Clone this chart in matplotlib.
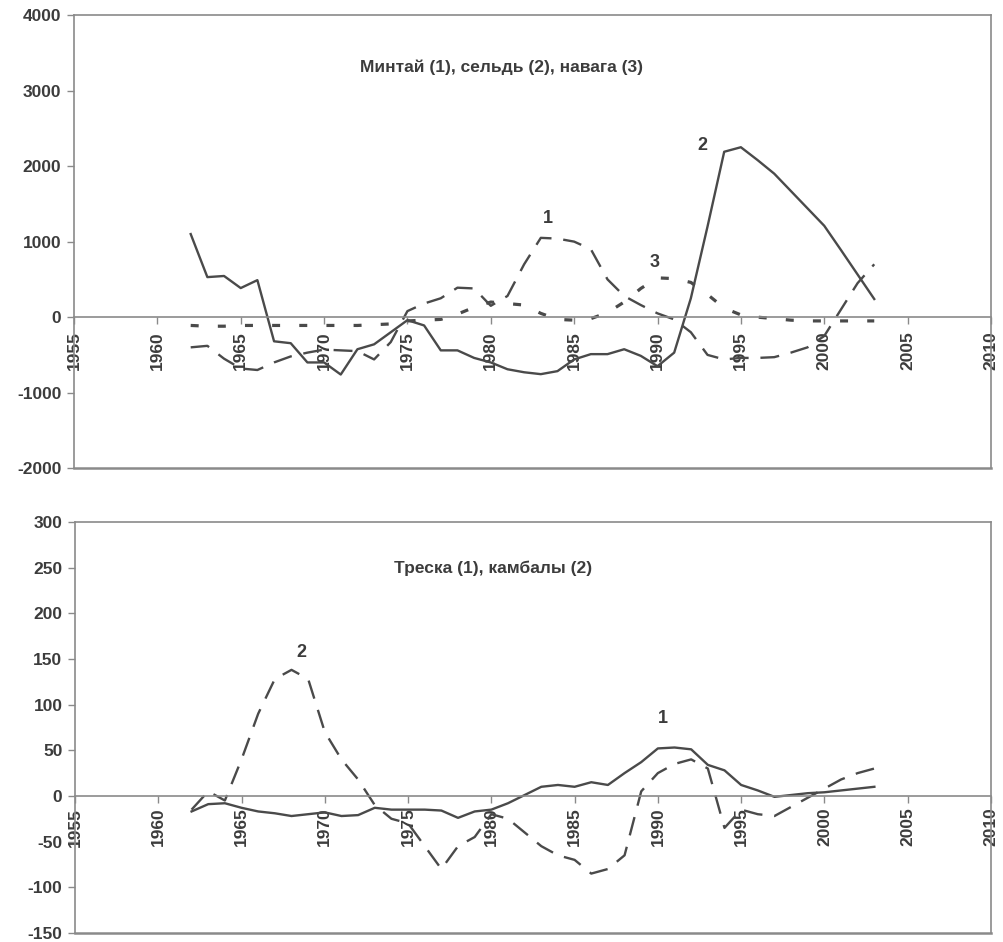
import numpy as np
import matplotlib
matplotlib.use("Agg")
import matplotlib.pyplot as plt

plt.rcParams['font.family'] = ['Liberation Sans', 'DejaVu Sans']
plt.rcParams['axes.unicode_minus'] = False

# --- top panel: минтай (1), сельдь (2), навага (3) ---
years_top = list(range(1962, 2004))
pollock = [-400, -380, -550, -680, -700, -600, -520, -470, -430, -440,
           -450, -560, -330, 80, 180, 250, 390, 380, 150, 280,
           700, 1050, 1040, 1000, 900, 500, 280, 160, 50, -30,
           -200, -500, -560, -540, -540, -530, -470, -400, -250, 100,
           450, 700]
herring = [1100, 530, 545, 385, 490, -320, -345, -600, -600, -760,
           -425, -360, -200, -40, -110, -440, -440, -540, -600, -690,
           -730, -755, -715, -560, -490, -490, -425, -513, -650, -470,
           250, 1200, 2190, 2250, 2080, 1900, 1670, 1440, 1210, 890,
           565, 240]
navaga = [-110, -120, -120, -110, -110, -110, -110, -110, -110, -110,
          -110, -100, -90, -50, -40, -30, 40, 130, 200, 180,
          160, 50, -30, -40, -20, 60, 200, 380, 520, 510,
          460, 300, 120, 30, 0, -20, -40, -50, -50, -50,
          -50, -50]

# --- bottom panel: треска (1), камбалы (2) ---
years_bot = list(range(1962, 2004))
cod = [-17, -9, -8, -13, -17, -19, -22, -20, -18, -22,
       -21, -13, -15, -15, -15, -16, -24, -17, -15, -8,
       1, 10, 12, 10, 15, 12, 25, 37, 52, 53,
       51, 34, 28, 12, 6, -1, 1, 3, 4, 6,
       8, 10]
flounder = [-15, 5, -5, 40, 90, 128, 138, 128, 70, 40,
            18, -10, -25, -30, -55, -80, -55, -45, -20, -25,
            -40, -55, -65, -70, -85, -80, -65, 5, 25, 35,
            40, 30, -35, -15, -20, -22, -12, -2, 8, 18,
            25, 30]

top_yticks = [-2000, -1000, 0, 1000, 2000, 3000, 4000]
bot_yticks = [-150, -100, -50, 0, 50, 100, 150, 200, 250, 300]
xticks = list(range(1955, 2011, 5))

line_c = '#4a4a4a'
frame_c = '#8a8a8a'
text_c = '#3c3c3c'

fig = plt.figure(figsize=(10.04, 9.42), dpi=100)
ax1 = fig.add_axes([0.0737, 0.503, 0.9133, 0.481])
ax2 = fig.add_axes([0.0747, 0.0096, 0.9123, 0.4364])


def style_axes(ax, yticks, xpad):
    ax.set_xlim(1955, 2010)
    ax.set_ylim(yticks[0], yticks[-1])
    ax.set_xticks(xticks)
    ax.set_yticks(yticks)
    for s in ax.spines.values():
        s.set_color(frame_c)
        s.set_linewidth(1.2)
    # x axis runs along zero, frame bottom drawn separately
    ax.spines['bottom'].set_position(('data', 0))
    ax.axhline(yticks[0], color=frame_c, lw=1.8, clip_on=False)
    ax.tick_params(axis='x', direction='out', length=5, width=1, color=frame_c,
                   labelrotation=90, pad=xpad, labelsize=12.5, labelcolor=text_c)
    ax.tick_params(axis='y', direction='out', length=5, width=1, color=frame_c,
                   pad=4, labelsize=12.5, labelcolor=text_c)
    for lab in ax.get_xticklabels() + ax.get_yticklabels():
        lab.set_fontweight('bold')


style_axes(ax1, top_yticks, 5)
ax1.plot(years_top, herring, color=line_c, lw=1.7)
ax1.plot(years_top, pollock, color=line_c, lw=1.7, dashes=(8, 5))
ax1.plot(years_top, navaga, color=line_c, lw=2.3, dashes=(2.5, 6))
ax1.text(0.466, 0.885, 'Минтай (1), сельдь (2), навага (3)', transform=ax1.transAxes,
         ha='center', va='center', fontsize=12.5, fontweight='bold', color=text_c)
ax1.text(1983.4, 1300, '1', ha='center', va='center', fontsize=13, fontweight='bold', color=text_c)
ax1.text(1992.7, 2270, '2', ha='center', va='center', fontsize=13, fontweight='bold', color=text_c)
ax1.text(1989.85, 730, '3', ha='center', va='center', fontsize=13, fontweight='bold', color=text_c)

style_axes(ax2, bot_yticks, 3.5)
ax2.plot(years_bot, cod, color=line_c, lw=1.7)
ax2.plot(years_bot, flounder, color=line_c, lw=1.7, dashes=(8, 5))
ax2.text(0.456, 0.888, 'Треска (1), камбалы (2)', transform=ax2.transAxes,
         ha='center', va='center', fontsize=12.5, fontweight='bold', color=text_c)
ax2.text(1968.6, 157, '2', ha='center', va='center', fontsize=13, fontweight='bold', color=text_c)
ax2.text(1990.3, 85, '1', ha='center', va='center', fontsize=13, fontweight='bold', color=text_c)

fig.savefig('out.png', dpi=100, facecolor='white')
